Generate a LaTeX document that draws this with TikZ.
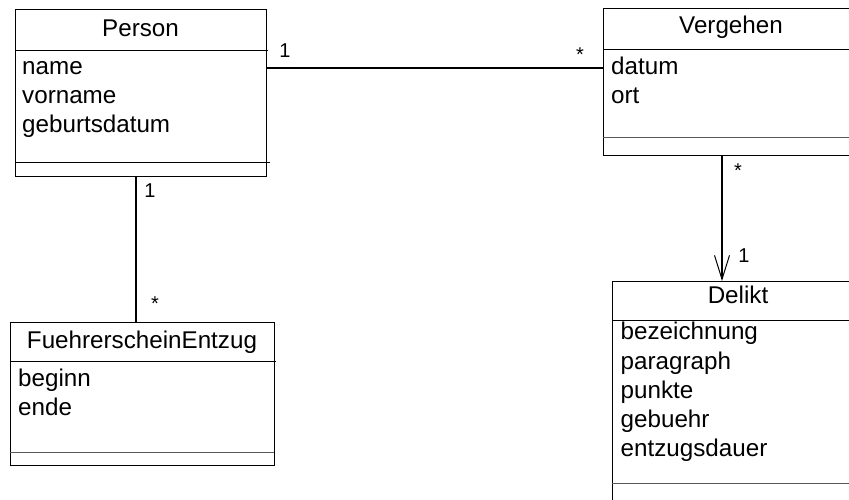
\documentclass[tikz,border=0pt]{standalone}
\usepackage{fontspec}
\setmainfont{Liberation Sans}
\usetikzlibrary{arrows.meta}
\begin{document}
\begin{tikzpicture}[x=1pt,y=-1pt,
  classbox/.style={draw,line width=1pt,anchor=north west,inner sep=0pt},
  classtitle/.style={font=\fontsize{24.2}{28}\selectfont,anchor=base,inner sep=0pt},
  attr/.style={font=\fontsize{24.2}{28}\selectfont,anchor=base west,inner sep=0pt},
  mult/.style={font=\fontsize{20}{22}\selectfont,anchor=base,inner sep=0pt},
  assoc/.style={line width=2pt},
  sep/.style={line width=1pt},
  sepgray/.style={line width=1pt,draw=black!65}
]
\useasboundingbox (0,0) rectangle (849,499);
\clip (0,0) rectangle (849,499);

% class boxes
\node[classbox,minimum width=251pt,minimum height=167pt] (person)   at (15,9)   {};
\node[classbox,minimum width=262pt,minimum height=147pt] (vergehen) at (603,8)  {};
\node[classbox,minimum width=264pt,minimum height=143pt] (fuehrer)  at (10,322) {};
\node[classbox,minimum width=262pt,minimum height=240pt] (delikt)   at (612,281) {};

% compartment separators
\draw[sep]     ([yshift=-41pt]person.north west) -- ++(253,0);
\draw[sep]     ([yshift=-153pt]person.north west) -- ++(255,0);
\draw[sep]     ([yshift=-41pt]vergehen.north west) -- ++(262,0);
\draw[sepgray] ([yshift=-129pt]vergehen.north west) -- ++(262,0);
\draw[sep]     ([yshift=-39pt]fuehrer.north west) -- ++(266,0);
\draw[sepgray] ([yshift=-130pt]fuehrer.north west) -- ++(264,0);
\draw[sep]     ([yshift=-39pt]delikt.north west) -- ++(262,0);
\draw[sepgray] ([yshift=-202pt]delikt.north west) -- ++(262,0);

% class names
\node[classtitle] (person-name)   at (140.5,36) {Person};
\node[classtitle] (vergehen-name) at (731,33.5) {Vergehen};
\node[classtitle] (fuehrer-name)  at (142,348)  {FuehrerscheinEntzug};
\node[classtitle] (delikt-name)   at (738,303.5) {Delikt};

% attributes
\node[attr] (p-a1) at (22,74.5)  {name};
\node[attr] (p-a2) at (22,103.5) {vorname};
\node[attr] (p-a3) at (22,132.5) {geburtsdatum};

\node[attr] (v-a1) at (611,74.5)  {datum};
\node[attr] (v-a2) at (611,103.5) {ort};

\node[attr] (f-a1) at (18,386) {beginn};
\node[attr] (f-a2) at (18,415) {ende};

\node[attr] (d-a1) at (620.5,339.8) {bezeichnung};
\node[attr] (d-a2) at (620.5,369.0) {paragraph};
\node[attr] (d-a3) at (620.5,398.2) {punkte};
\node[attr] (d-a4) at (620.5,427.4) {gebuehr};
\node[attr] (d-a5) at (620.5,456.6) {entzugsdauer};

% associations
\draw[assoc] ([yshift=-59pt]person.north east) -- ([yshift=-60pt]vergehen.north west);
\draw[assoc] ([xshift=121pt]person.south west) -- ([xshift=121pt]person.south west |- fuehrer.north);
\draw[assoc,-{Straight Barb[length=24pt,width=15pt,line width=1pt]}]
  ([xshift=119pt]vergehen.south west) -- ([xshift=119pt]vergehen.south west |- delikt.north);

% multiplicities
\node[mult] (m1) at (285,57.5)  {1};
\node[mult] (m2) at (580,61)    {*};
\node[mult] (m3) at (150,197.5) {1};
\node[mult] (m4) at (155,310)   {*};
\node[mult] (m5) at (738,177)   {*};
\node[mult] (m6) at (744,262.5) {1};
\end{tikzpicture}
\end{document}
